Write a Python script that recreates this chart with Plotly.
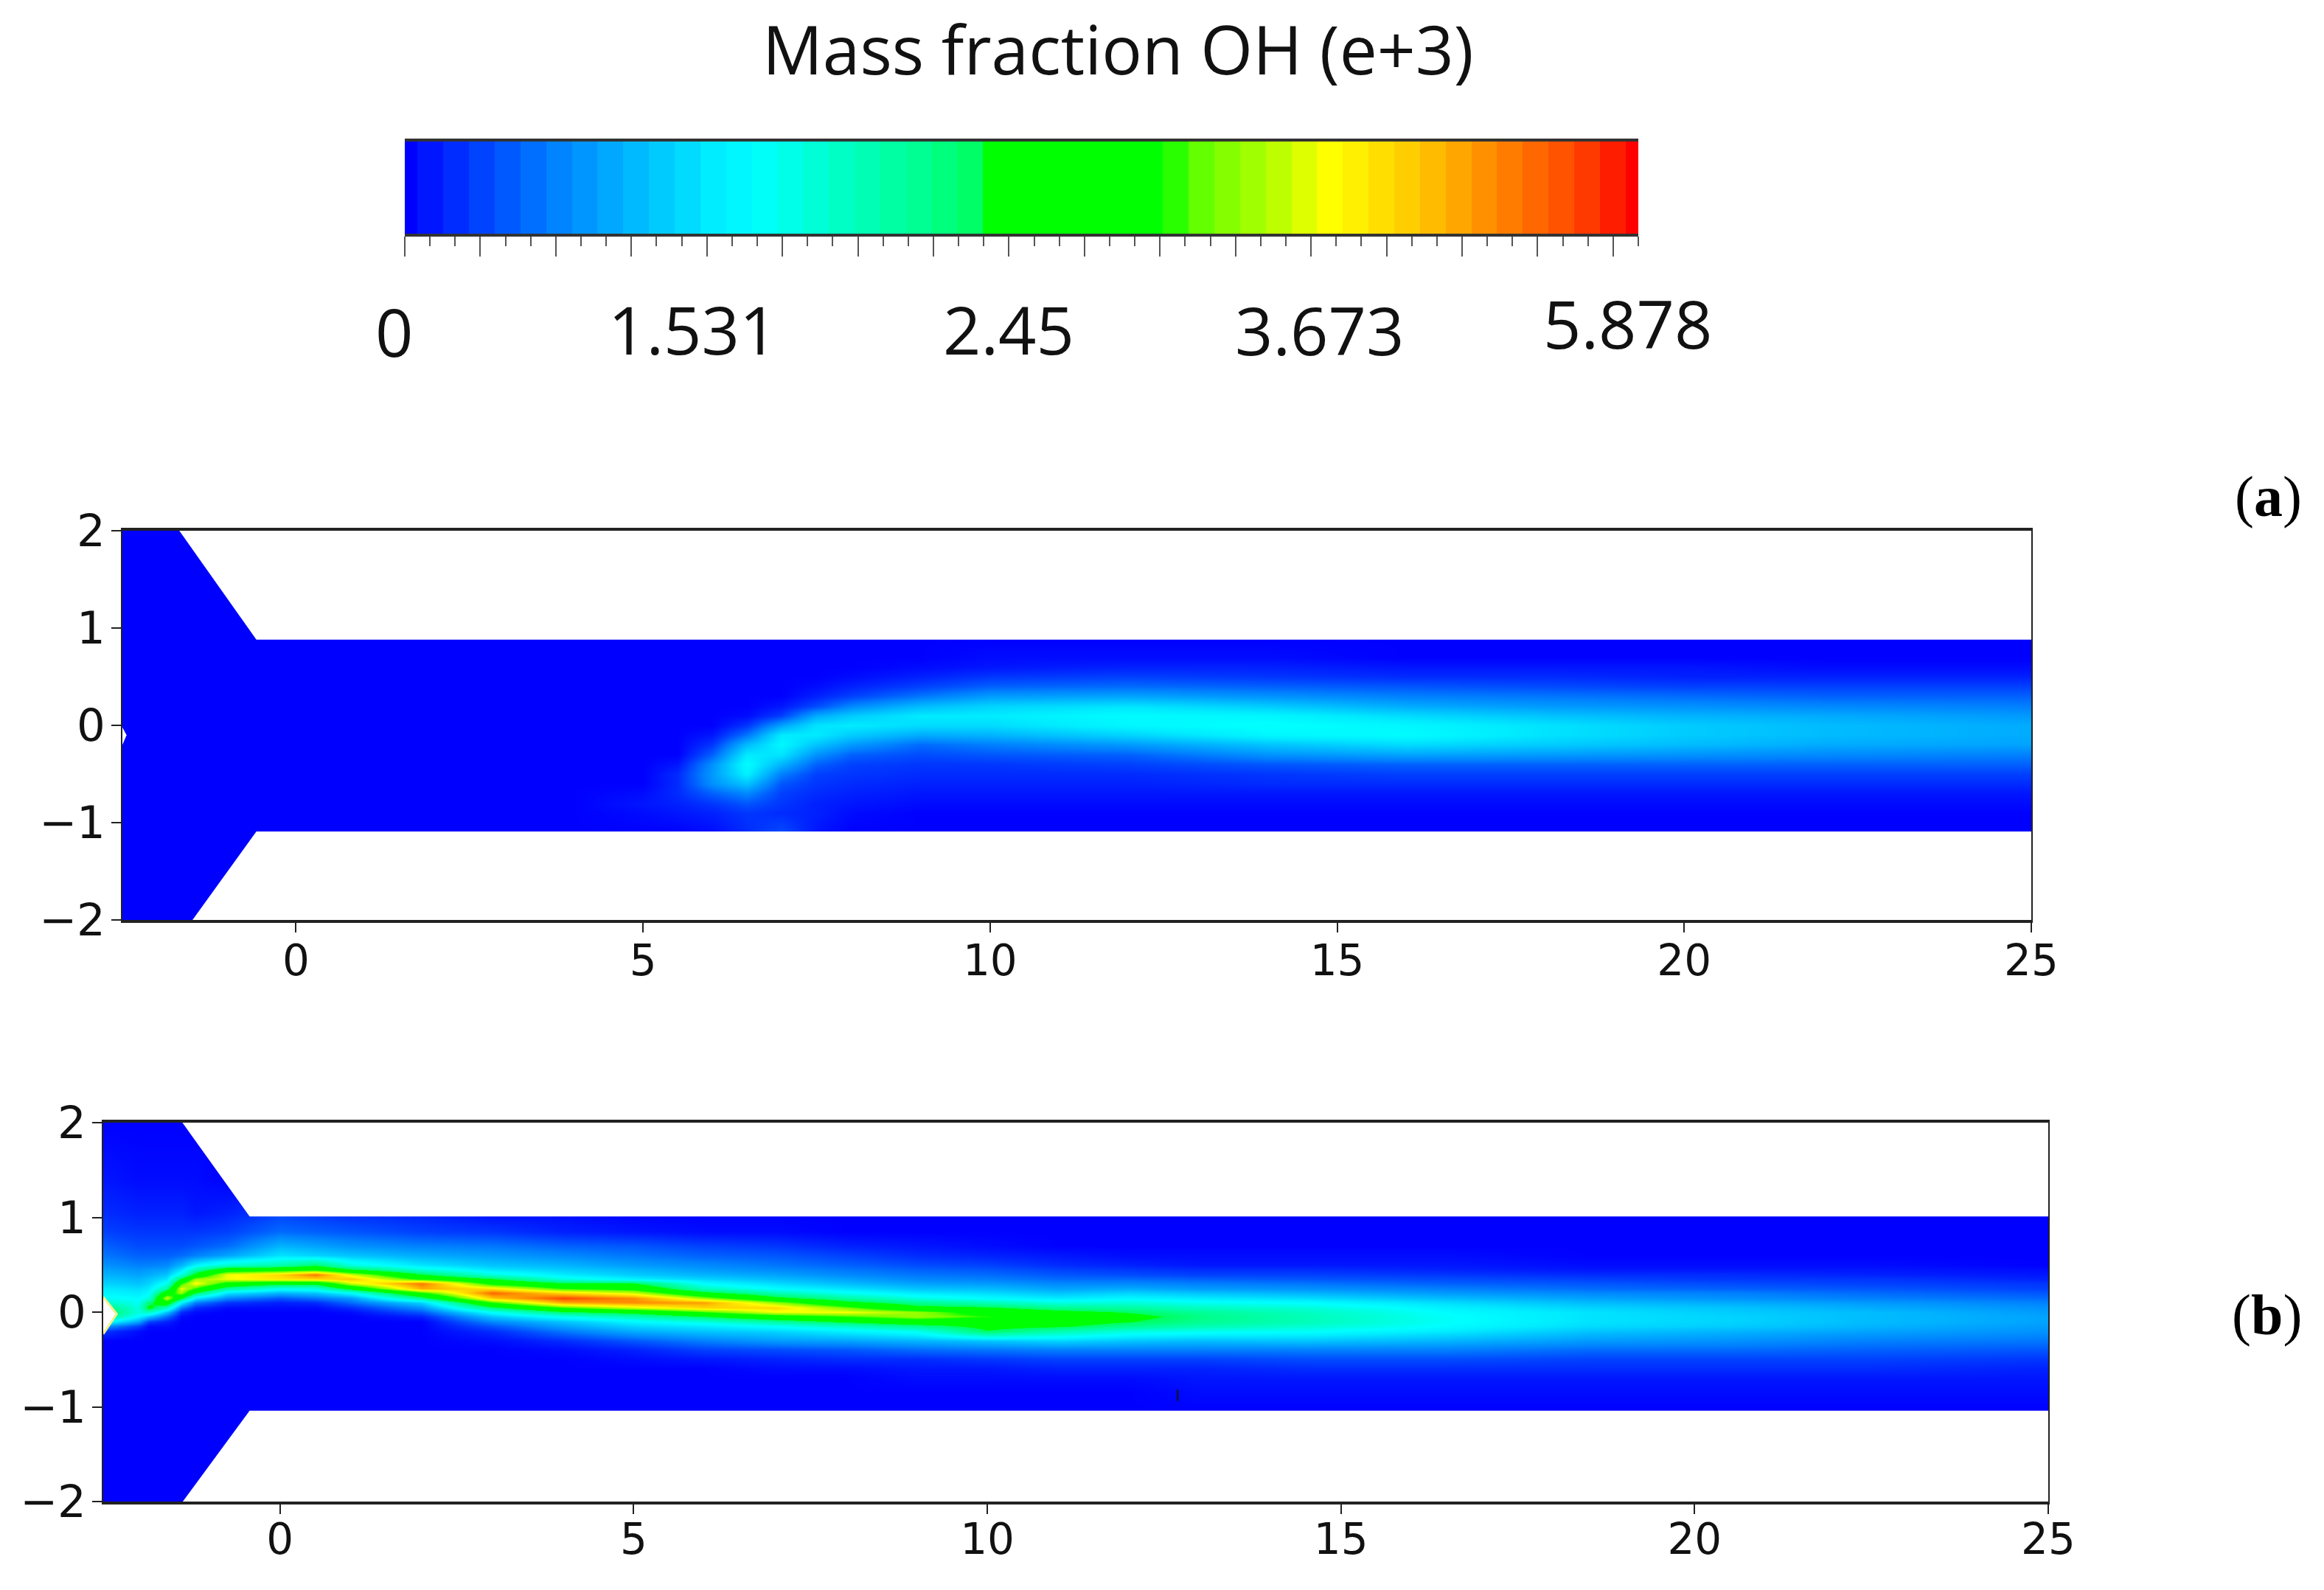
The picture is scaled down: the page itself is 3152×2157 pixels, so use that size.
import plotly.graph_objects as go

W, H = 3152, 2157
TITLE = "Mass fraction OH (e+3)"
CB_LABELS = ["0", "1.531", "2.45", "3.673", "5.878"]
X_TICKS = [0, 5, 10, 15, 20, 25]
Y_TICKS = [-2, -1, 0, 1, 2]

# colour bar stops: position along the bar, colour
CS_POS = [0, .06, .12, .18, .25, .285, .35, .42, .465, .47, .61, .65, .70, .75, .82, .88, .95, 1]
CS_COL = ["#0000ff", "#0040ff", "#0080ff", "#00b4ff", "#00ecff", "#00ffff", "#00ffc8", "#00ff90",
          "#00ff60", "#00ff00", "#00ff00", "#70ff00", "#b0ff00", "#ffff00", "#ffc800", "#ff8c00",
          "#ff4600", "#ff0000"]
CB_STEPS = [i / 48 * 100 for i in range(49)]

# panel (a): level along the bar (percent) read at each x (columns), for rows AY
AY = [2, .9, .7, .6, .5, .4, .3, .2, .1, 0, -.1, -.2, -.3, -.4, -.5, -.6, -.7, -.8, -.9, -1.1, -2]
AX = [-2.5, 4, 5, 5.5, 6, 6.5, 7, 7.5, 8, 9, 10, 12, 14, 16, 18, 20, 22, 25]
A_COLS = [
 [0]*21,
 [0]*21,
 [0,0,0,0,0,0,0,0,0,0,0,0,0,0,0,0,1,2,1,0,0],
 [0,0,0,0,0,0,0,0,0,0,0,0,0,2,4,4,4,3,2,0,0],
 [0,0,0,0,0,0,0,0,0,0,2,5,9,14,15,14,9,5,3,1,0],
 [0,0,0,0,0,0,0,0,1,5,11,19,25,28,26,20,13,8,5,4,0],
 [0,0,0,0,0,0,0,2,6,16,25,27,24,18,12,8,6,5,4,7,0],
 [0,0,0,0,0,1,3,7,17,24,25,20,14,9,6,5,4,3,3,2,0],
 [0,0,0,0,1,3,6,13,21,25,21,15,9,6,5,4,3,2,1,0,0],
 [0,0,0,1,3,6,11,19,25,23,17,10,7,5,4,3,2,1,0,0,0],
 [0,0,1,2,5,9,15,22,25,23,18,12,8,5,4,3,2,1,0,0,0],
 [0,0,1,3,6,10,16,24,28,27,22,15,9,6,4,3,2,1,0,0,0],
 [0,0,1,3,5,9,14,21,27,29,27,20,14,8,5,4,2,1,0,0,0],
 [0,0,0,2,4,8,12,17,23,27,28,23,16,9,6,4,2,1,0,0,0],
 [0,0,0,2,4,7,11,15,20,24,24,21,15,9,6,4,2,1,0,0,0],
 [0,0,0,2,3,6,10,14,18,21,21,19,14,9,6,4,2,1,0,0,0],
 [0,0,0,1,3,6,9,13,17,19,19,17,13,9,6,4,2,1,0,0,0],
 [0,0,0,1,3,6,9,12,15,17,17,16,12,9,6,4,2,1,0,0,0],
]
A_WALL_TOP_X = [-1.68, -.57, 25, 25, -1.68]
A_WALL_TOP_Y = [2, .88, .88, 2, 2]
A_WALL_BOT_X = [-1.49, -.57, 25, 25, -1.49]
A_WALL_BOT_Y = [-2, -1.09, -1.09, -2, -2]
A_NOTCH_X = [-2.5, -2.44, -2.5]
A_NOTCH_Y = [-.02, -.1, -.2]

# panel (b)
BY = [2, 1.4, 1.05, .85, .7, .6, .5, .45, .4, .35, .3, .25, .2, .15, .1, .05, 0,
      -.05, -.1, -.15, -.2, -.3, -.4, -.5, -.6, -.7, -.85, -1.05, -2]
BX = [-2.5, -2, -1.85, -1.6, -1.4, -1.2, -.75, 0, .5, 1, 2, 3, 4, 5, 6, 7, 8, 9, 10, 11, 12, 13,
      14.5, 16.5, 18.5, 20.5, 22.5, 25]
B_COLS = [
 [0,2,4,6,9,11,14,16,18,20,22,25,27,30,35,45,50,45,30,15,5,0,0,0,0,0,0,0,0],
 [0,1,3,5,7,9,12,14,16,18,20,23,25,28,30,32,32,27,16,6,1,0,0,0,0,0,0,0,0],
 [0,1,3,5,7,9,12,15,17,20,22,25,28,32,44,50,36,20,6,1,0,0,0,0,0,0,0,0,0],
 [0,1,3,5,7,9,13,16,20,24,30,40,56,72,56,36,20,10,3,1,0,0,0,0,0,0,0,0,0],
 [0,1,3,5,7,10,18,24,32,48,62,74,68,48,26,12,4,1,0,0,0,0,0,0,0,0,0,0,0],
 [0,1,2,5,8,12,26,38,50,68,76,62,46,25,12,4,1,0,0,0,0,0,0,0,0,0,0,0,0],
 [0,0,3,6,10,16,34,54,74,74,58,40,24,13,5,1,0,0,0,0,0,0,0,0,0,0,0,0,0],
 [0,0,6,10,18,24,38,56,80,78,50,30,18,8,3,1,0,0,0,0,0,0,0,0,0,0,0,0,0],
 [0,0,5,9,16,22,45,58,90,80,50,32,20,11,4,1,0,0,0,0,0,0,0,0,0,0,0,0,0],
 [0,0,4,8,14,20,32,47,72,82,72,50,28,15,10,4,1,0,0,0,0,0,0,0,0,0,0,0,0],
 [0,0,3,6,12,17,24,32,47,60,90,85,60,42,22,14,8,3,0,0,0,0,0,0,0,0,0,0,0],
 [0,0,1,5,11,15,20,24,32,47,58,78,92,82,62,44,29,20,13,8,4,1,0,0,0,0,0,0,0],
 [0,0,1,3,9,13,18,21,25,32,48,62,80,95,85,62,45,30,20,16,11,4,1,0,0,0,0,0,0],
 [0,0,0,2,8,11,15,18,21,26,47,58,72,88,88,72,50,37,27,22,17,8,3,1,0,0,0,0,0],
 [0,0,0,1,6,9,13,15,18,22,28,36,50,68,86,80,62,46,32,25,20,12,6,2,0,0,0,0,0],
 [0,0,0,1,5,8,11,13,16,19,23,28,38,50,68,80,74,56,40,29,22,15,7,3,1,0,0,0,0],
 [0,0,0,0,3,6,9,11,13,16,19,24,30,40,50,66,75,62,48,35,26,16,8,4,1,0,0,0,0],
 [0,0,0,0,2,4,7,9,11,13,16,20,25,32,42,50,68,68,55,42,30,18,10,4,2,1,0,0,0],
 [0,0,0,0,1,3,6,8,10,12,15,19,23,28,37,48,56,62,52,50,46,20,11,5,2,1,0,0,0],
 [0,0,0,0,0,2,4,6,8,10,13,16,20,25,32,42,50,56,52,48,38,22,12,6,3,1,0,0,0],
 [0,0,0,0,0,1,3,5,7,10,13,17,22,27,33,40,46,50,47,42,32,20,12,6,3,1,0,0,0],
 [0,0,0,0,0,1,2,4,6,9,12,15,20,25,30,36,41,43,42,38,30,19,12,6,3,2,1,0,0],
 [0,0,0,0,0,1,2,4,6,8,11,14,18,23,28,33,36,37,37,34,29,20,12,7,4,2,1,0,0],
 [0,0,0,0,0,1,2,3,5,7,9,12,15,19,23,26,28,29,29,28,25,18,12,7,4,2,1,0,0],
 [0,0,0,0,0,0,1,2,4,6,8,10,13,16,19,22,24,24,24,23,20,15,10,6,4,2,1,0,0],
 [0,0,0,0,0,0,1,2,4,5,7,9,12,14,17,20,21,22,22,21,18,14,10,6,4,2,1,0,0],
 [0,0,0,0,0,0,1,2,3,5,6,8,10,12,15,17,19,19,19,18,16,12,9,6,4,2,1,0,0],
 [0,0,0,0,0,0,0,1,2,3,5,6,8,10,12,14,15,16,16,15,14,11,8,5,3,2,1,0,0],
]
B_WALL_TOP_X = [-1.38, -.43, 25, 25, -1.38]
B_WALL_TOP_Y = [2, 1.01, 1.01, 2, 2]
B_WALL_BOT_X = [-1.375, -.43, 25, 25, -1.375]
B_WALL_BOT_Y = [-2, -1.04, -1.04, -2, -2]
B_TIP_X = [-2.5, -2.31, -2.5]
B_TIP_Y = [.16, -.02, -.23]
B_SPECK_X = [12.69]
B_SPECK_Y = [-.88]


def transpose(cols):
    return [list(r) for r in zip(*cols)]


def px(x):
    return x / W


def py(y):
    return 1 - y / H


scale = [[p, c] for p, c in zip(CS_POS, CS_COL)]
fig = go.Figure()

fig.add_trace(go.Heatmap(x=AX, y=AY, z=transpose(A_COLS), coloraxis="coloraxis", zsmooth="best",
                         xaxis="x", yaxis="y"))
fig.add_trace(go.Heatmap(x=BX, y=BY, z=transpose(B_COLS), coloraxis="coloraxis", zsmooth="best",
                         xaxis="x2", yaxis="y2"))
fig.add_trace(go.Heatmap(x=[v / 100 for v in CB_STEPS], y=[0, 1], z=[CB_STEPS, CB_STEPS],
                         coloraxis="coloraxis", xaxis="x3", yaxis="y3"))


def poly(xs, ys, ax, ay, fill="#ffffff", line=None):
    fig.add_trace(go.Scatter(x=xs, y=ys, mode="lines", fill="toself", fillcolor=fill,
                             line=dict(width=3 if line else 0, color=line or fill),
                             xaxis=ax, yaxis=ay, hoverinfo="skip"))


poly(A_WALL_TOP_X, A_WALL_TOP_Y, "x", "y")
poly(A_WALL_BOT_X, A_WALL_BOT_Y, "x", "y")
poly(A_NOTCH_X, A_NOTCH_Y, "x", "y")
poly(B_WALL_TOP_X, B_WALL_TOP_Y, "x2", "y2")
poly(B_WALL_BOT_X, B_WALL_BOT_Y, "x2", "y2")
poly(B_TIP_X, B_TIP_Y, "x2", "y2", line="#f4f08a")
fig.add_trace(go.Scatter(x=B_SPECK_X, y=B_SPECK_Y, mode="markers",
                         marker=dict(symbol="line-ns", size=11, line=dict(width=3, color="#10104a")),
                         xaxis="x2", yaxis="y2", hoverinfo="skip"))


def xax(dom, anchor, standoff):
    return dict(domain=dom, anchor=anchor, range=[-2.5, 25], tickmode="array", tickvals=X_TICKS,
                ticks="outside", ticklen=13, tickwidth=2, tickcolor="#222222", showgrid=False,
                zeroline=False, showline=True, mirror=True, linewidth=4, linecolor="#222222",
                tickfont=dict(family="DejaVu Sans", size=58, color="#111111"),
                ticklabelstandoff=standoff, automargin=False)


def yax(dom, anchor):
    return dict(domain=dom, anchor=anchor, range=[-2, 2], tickmode="array", tickvals=Y_TICKS,
                ticks="outside", ticklen=13, tickwidth=2, tickcolor="#222222", showgrid=False,
                zeroline=False, showline=True, mirror=True, linewidth=2, linecolor="#222222",
                tickfont=dict(family="DejaVu Sans", size=61, color="#111111"),
                ticklabelstandoff=-4, automargin=False)


major = [i * 3 / 49 for i in range(17)]
minor = [i / 49 for i in range(50) if i % 3]

annotations = [dict(text=TITLE, x=px(1516), y=py(66), xref="paper", yref="paper", showarrow=False,
                    xanchor="center", yanchor="middle",
                    font=dict(family="Open Sans", size=91, color="#111111"))]
for lab, cx, cy in zip(CB_LABELS, [534, 940, 1368, 1789, 2207], [449, 446, 446, 447, 438]):
    annotations.append(dict(text=lab, x=px(cx), y=py(cy), xref="paper", yref="paper", showarrow=False,
                            xanchor="center", yanchor="middle",
                            font=dict(family="Open Sans", size=90, color="#111111")))
for lab, cy in zip(["a", "b"], [673, 1783]):
    annotations.append(dict(text="(<b>%s</b>)" % lab, x=px(3124), y=py(cy), xref="paper", yref="paper",
                            xanchor="right", yanchor="middle", showarrow=False,
                            font=dict(family="Liberation Serif", size=78, color="#000000")))

fig.update_layout(
    width=W, height=H, margin=dict(l=0, r=0, t=0, b=0, pad=0), paper_bgcolor="#ffffff", plot_bgcolor="#ffffff",
    showlegend=False,
    coloraxis=dict(cmin=0, cmax=100, colorscale=scale, showscale=False),
    xaxis=xax([px(166), px(2755)], "y", -12),
    yaxis=yax([py(1248), py(720)], "x"),
    xaxis2=xax([px(140), px(2778)], "y2", -16),
    yaxis2=yax([py(2037), py(1523)], "x2"),
    xaxis3=dict(domain=[px(549), px(2222)], anchor="y3", range=[0, 1], showgrid=False, zeroline=False,
                showline=True, mirror=True, linewidth=4, linecolor="#333333", showticklabels=False,
                tickmode="array", tickvals=major, ticks="outside", ticklen=27, tickwidth=2, tickcolor="#555555",
                automargin=False,
                minor=dict(tickmode="array", tickvals=minor, ticks="outside", ticklen=13, tickwidth=2,
                           tickcolor="#555555")),
    yaxis3=dict(domain=[py(317), py(192)], anchor="x3", range=[0, 1], showgrid=False, zeroline=False,
                showticklabels=False, ticks="", automargin=False),
    annotations=annotations,
)

fig.write_html("out.html", post_script="document.body.style.margin='0';",
               config=dict(displayModeBar=False))
